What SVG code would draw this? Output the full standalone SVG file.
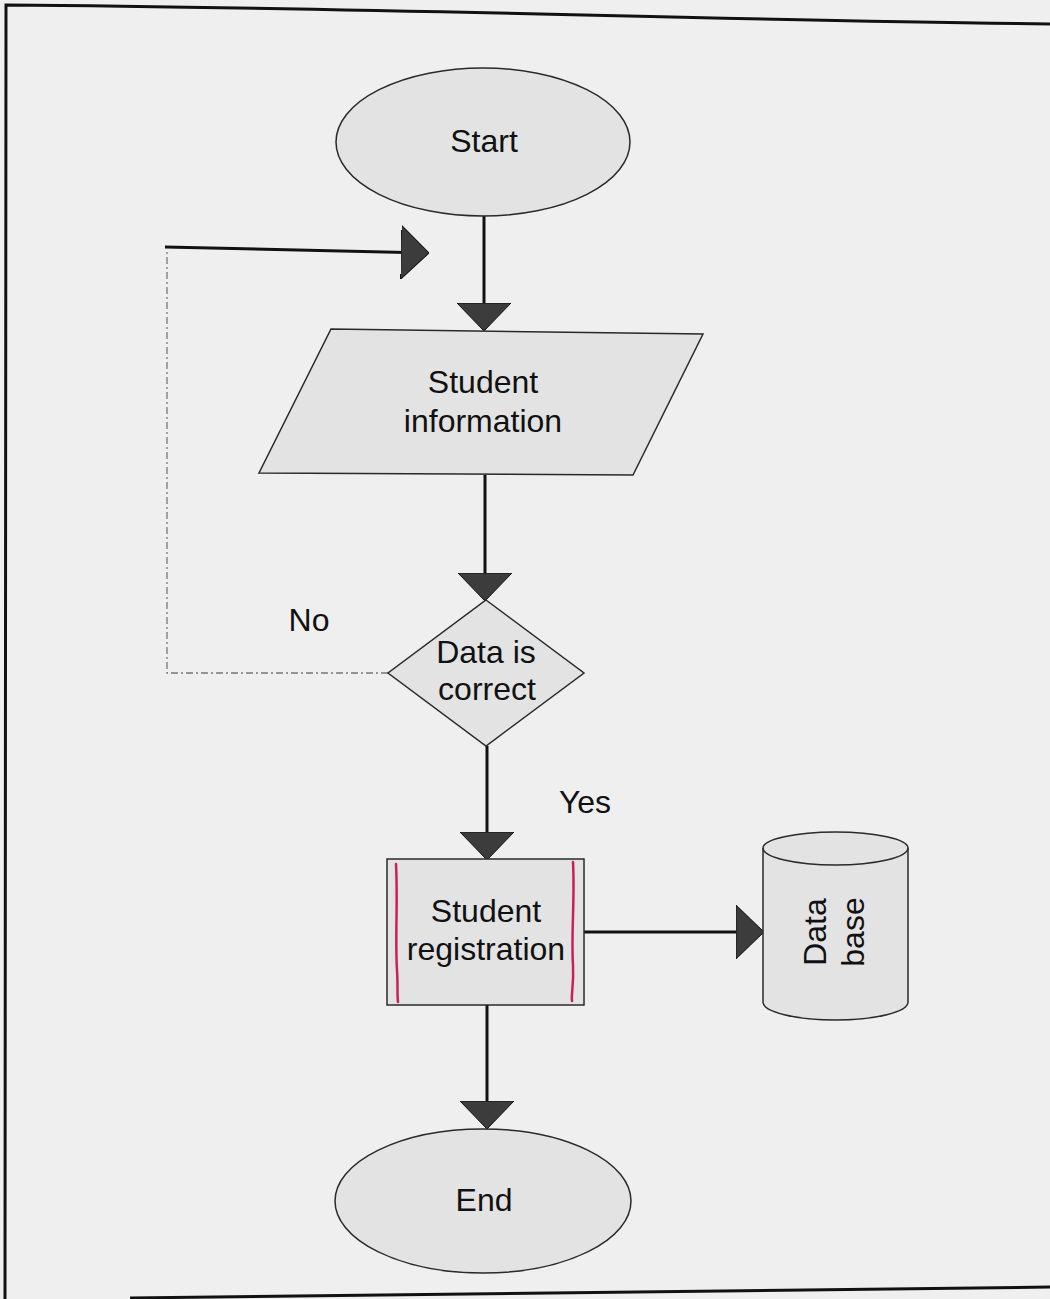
<svg xmlns="http://www.w3.org/2000/svg" width="1050" height="1299" viewBox="0 0 1050 1299">
  <style>
    .page { fill: #efefef; }
    .frame { fill: none; stroke: #111; stroke-width: 3; }
    .shape { fill: #e3e3e3; stroke: #2a2a2a; stroke-width: 1.5; }
    .label { font-family: "Liberation Sans", Arial, sans-serif; font-size: 32px; fill: #111; text-anchor: middle; }
    .flow { fill: none; stroke: #111; stroke-width: 3; }
    .loop { fill: none; stroke: #777; stroke-width: 1.3; stroke-dasharray: 7 3 2 3; }
    .mark { fill: none; stroke: #c8205a; stroke-width: 2.5; stroke-linecap: round; }
  </style>
  <defs>
    <marker id="head" viewBox="0 0 28 54" refX="27" refY="27" markerWidth="28" markerHeight="54" markerUnits="userSpaceOnUse" orient="auto">
      <path d="M0,0 L28,27 L0,54 Z" fill="#3c3c3c" stroke="#111" stroke-width="1"/>
    </marker>
  </defs>

  <!-- paper and outer frame -->
  <rect class="page" x="0" y="0" width="1050" height="1299"/>
  <path class="frame" d="M1050,24 C700,20 400,8 6,5 L5,1299"/>
  <path class="frame" d="M130,1298 C500,1294 800,1290 1050,1287"/>

  <!-- connectors -->
  <g id="connectors">
    <path class="flow" d="M484,216 V330" marker-end="url(#head)"/>
    <path class="loop" d="M388,673 H167 V250"/>
    <path class="flow" d="M165,247 L428,253" marker-end="url(#head)"/>
    <path class="flow" d="M485,475 V600" marker-end="url(#head)"/>
    <path class="flow" d="M487,746 V859" marker-end="url(#head)"/>
    <path class="flow" d="M584,932 H763" marker-end="url(#head)"/>
    <path class="flow" d="M487,1005 V1128" marker-end="url(#head)"/>
  </g>

  <g id="start">
    <ellipse class="shape" cx="483" cy="142" rx="147" ry="74"/>
    <text class="label" x="484" y="152">Start</text>
  </g>

  <g id="student-information">
    <polygon class="shape" points="331,329 703,334 633,475 259,473"/>
    <text class="label" x="483" y="393">Student</text>
    <text class="label" x="483" y="432">information</text>
  </g>

  <g id="data-check">
    <polygon class="shape" points="486,600 584,673 486,746 388,673"/>
    <text class="label" x="486" y="663">Data is</text>
    <text class="label" x="487" y="700">correct</text>
  </g>

  <g id="branch-labels">
    <text class="label" x="309" y="631">No</text>
    <text class="label" x="585" y="813">Yes</text>
  </g>

  <g id="student-registration">
    <rect class="shape" x="387" y="859" width="197" height="146"/>
    <path class="mark" d="M396,864 C398,900 395,940 397,970 C398,985 397,995 398,1002"/>
    <path class="mark" d="M573,862 C575,900 571,935 573,965 C574,985 571,995 572,1001"/>
    <text class="label" x="486" y="922">Student</text>
    <text class="label" x="486" y="960">registration</text>
  </g>

  <g id="database">
    <path class="shape" d="M763,848 A72.5,16 0 0 1 908,848 L908,1002 A72.5,18 0 0 1 763,1002 Z"/>
    <path fill="none" stroke="#2a2a2a" stroke-width="1.5" d="M763,848 A72.5,17 0 0 0 908,848"/>
    <text class="label" transform="translate(826,932) rotate(-90)" x="0" y="0">Data</text>
    <text class="label" transform="translate(864,932) rotate(-90)" x="0" y="0">base</text>
  </g>

  <g id="end">
    <ellipse class="shape" cx="483" cy="1201" rx="148" ry="72"/>
    <text class="label" x="484" y="1211">End</text>
  </g>
</svg>
